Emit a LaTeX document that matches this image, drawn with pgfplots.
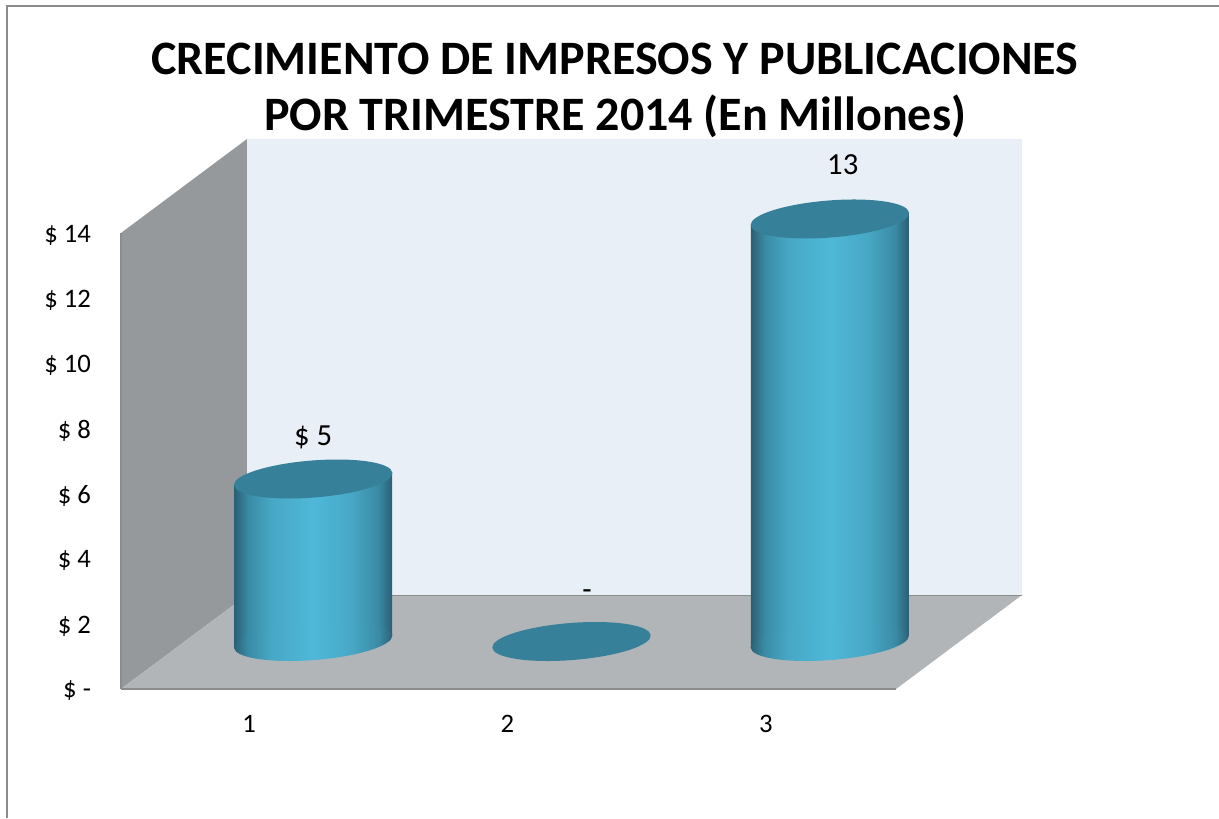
\documentclass[border=0pt]{standalone}
\usepackage{fontspec}
\setmainfont{Carlito}
\usepackage{pgfplots}
\pgfplotsset{compat=1.18}
\definecolor{sidewall}{HTML}{95999C}
\definecolor{backwall}{HTML}{E8EFF6}
\definecolor{floorc}{HTML}{B1B5B8}
\definecolor{frameline}{HTML}{8C8C8C}
\definecolor{captop}{HTML}{37809A}
\definecolor{cyla}{HTML}{2A5F72}
\definecolor{cylb}{HTML}{3A8BA5}
\definecolor{cylc}{HTML}{47A8C5}
\definecolor{cyld}{HTML}{4FB8D8}
\pgfdeclarehorizontalshading{cyl}{100bp}{color(0bp)=(cyla); color(25bp)=(cyla); color(29.5bp)=(cylb); color(37bp)=(cylc); color(50bp)=(cyld); color(62bp)=(cylc); color(70.5bp)=(cylb); color(75bp)=(cyla); color(100bp)=(cyla)}
% tilted ellipses, sizes in pt (1 px = 0.75 pt)
\pgfdeclareplotmark{captop}{%
  \pgftransformrotate{4.5}%
  \pgfpathellipse{\pgfpointorigin}{\pgfqpoint{59.6pt}{0pt}}{\pgfqpoint{0pt}{13.9pt}}%
  \pgfusepathqfill}
\pgfdeclareplotmark{capbase}{%
  \pgftransformrotate{4.5}%
  \pgfpathellipse{\pgfpointorigin}{\pgfqpoint{59.6pt}{0pt}}{\pgfqpoint{0pt}{13.9pt}}%
  \pgfshadepath{cyl}{0}\pgfusepath{discard}}
\begin{document}
\begin{tikzpicture}[x=0.75pt,y=0.75pt]
\path[use as bounding box] (0,0) rectangle (1219,818);
% chart box, walls and floor
\fill[sidewall] (121,129) -- (247,223) -- (247,679) -- (121,585) -- cycle;
\fill[backwall] (247,223) rectangle (1022,679);
\fill[floorc] (121,129) -- (247,223) -- (1022,223) -- (896,129) -- cycle;
\draw[frameline,line width=1.5pt] (1219,812) -- (7,812) -- (7,0);
\draw[frameline,line width=1.5pt] (121,129) -- (896,129);
\draw[frameline,line width=0.75pt] (247,223) -- (1022,223);
\draw[frameline,line width=1pt] (121,129) -- (121,585);
\node[font=\fontsize{36}{36}\selectfont\bfseries] at (615,759) {CRECIMIENTO DE IMPRESOS Y PUBLICACIONES};
\node[font=\fontsize{36}{36}\selectfont\bfseries] at (615,702) {POR TRIMESTRE 2014 (En Millones)};
% value axis with the tick labels
\begin{axis}[
    at={(90.75pt,96.75pt)},
    anchor=south west,
    scale only axis,
    width=581.25pt,
    height=342pt,
    xmin=0.5, xmax=3.5,
    ymin=0, ymax=14,
    axis line style={draw=none},
    tick style={draw=none},
    xtick={1,2,3},
    ytick={0,2,...,14},
    yticklabels={\$ -,\$ 2,\$ 4,\$ 6,\$ 8,\$ 10,\$ 12,\$ 14},
    ticklabel style={font=\fontsize{20}{20}\selectfont},
    yticklabel style={xshift=-19pt, yshift=-1.5pt},
    xticklabel style={yshift=-16pt, xshift=-0.8pt},
    /pgf/number format/assume math mode=true,
]
\end{axis}
% cylinders: the front plane sits 64 px right of and 47 px above the axis corner
\begin{axis}[
    at={(138pt,132.375pt)},
    anchor=south west,
    scale only axis,
    width=581.25pt,
    height=341.25pt,
    xmin=0.5, xmax=3.5,
    ymin=0, ymax=14,
    hide axis,
    clip=false,
]
\addplot[only marks, mark=capbase] coordinates {(1,0) (3,0)};
\addplot[draw=none, shading=cyl] coordinates {(0.694,-0.2) (1.306,0.2) (1.306,5.2) (0.694,4.8)} -- cycle;
\addplot[draw=none, shading=cyl] coordinates {(2.694,-0.2) (3.306,0.2) (3.306,13.2) (2.694,12.8)} -- cycle;
\addplot[only marks, mark=captop, mark options={fill=captop, draw=none}, color=captop] coordinates {(1,5) (2,0) (3,13)};
\node[font=\fontsize{23}{23}\selectfont] at (axis cs:1.0,6.28) {\$ 5};
\node[font=\fontsize{23}{23}\selectfont] at (axis cs:2.06,1.45) {-};
\node[font=\fontsize{23}{23}\selectfont] at (axis cs:3.05,14.66) {13};
\end{axis}
\end{tikzpicture}
\end{document}
